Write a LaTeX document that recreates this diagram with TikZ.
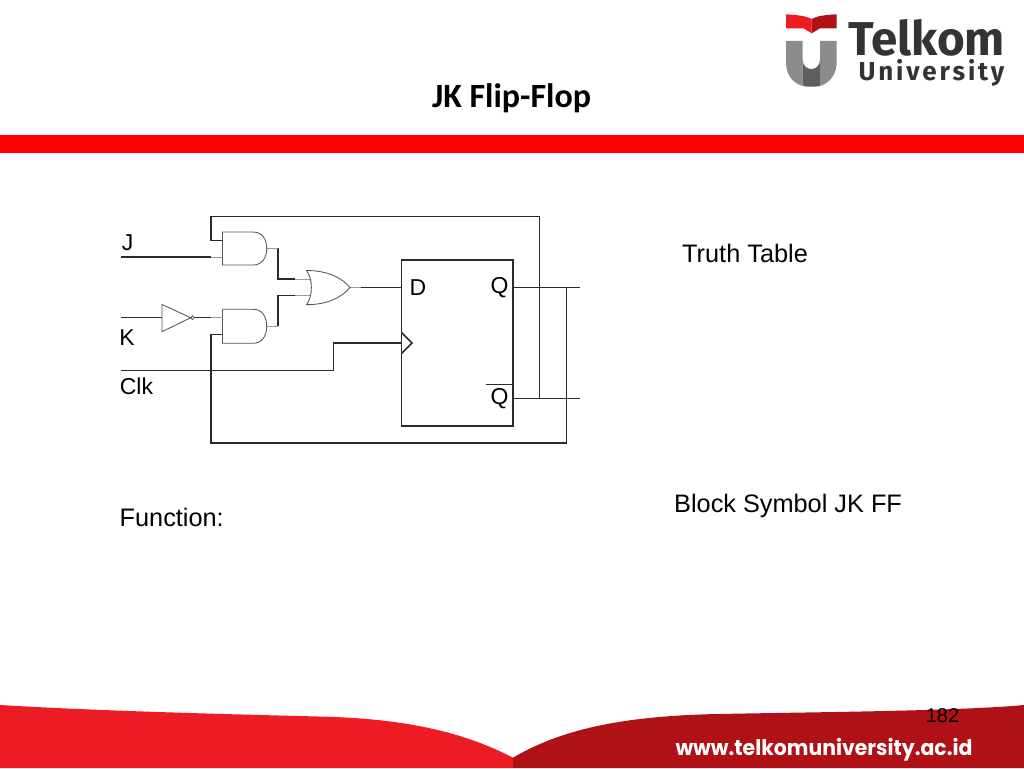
\documentclass[tikz,border=0pt]{standalone}
\usepackage{fontspec}
\setmainfont{Liberation Sans}
\newfontfamily\titlefont{Carlito}
\newfontfamily\webfont{Poppins}
\newfontfamily\logofont{Fira Sans}
\newfontfamily\logospaced[LetterSpace=11]{Fira Sans}
\definecolor{wirecol}{HTML}{2A2A2A}
\definecolor{gatecol}{HTML}{555555}
\definecolor{pincol}{HTML}{999999}
\definecolor{footL}{HTML}{ED1C24}
\definecolor{footR}{HTML}{B01116}
\definecolor{logotxt}{HTML}{333333}
\definecolor{logolight}{HTML}{8C8C8C}
\definecolor{logodark}{HTML}{5F5F5F}
\tikzset{
  wire/.style={draw=wirecol,line width=1.5pt,line join=miter},
  pin/.style={draw=pincol,line width=1pt},
  gate/.style={draw=gatecol,line width=0.85pt,fill=white},
  label/.style={inner sep=0pt,font=\fontsize{25.3}{27}\selectfont,text=black},
  pinlabel/.style={inner sep=0pt,font=\fontsize{23}{25}\selectfont,text=black},
  ffbox/.style={draw=wirecol,line width=1.5pt,fill=white,inner sep=0pt,minimum width=111.5pt,minimum height=166pt},
}
\begin{document}
\begin{tikzpicture}[x=1pt,y=-1pt]
\useasboundingbox (0,0) rectangle (1024,768);
\fill[white] (0,0) rectangle (1024,768);
% red bar
\fill[red] (0,134.5) rectangle (1024,153.3);
% footer
\fill[footL] (0,705) .. controls (100,711) and (220,714) .. (326,716.7) .. controls (400,719) and (460,730) .. (513,757.7) -- (513,768) -- (0,768) -- cycle;
\fill[footR] (1024,705) .. controls (960,711) and (820,712) .. (718,714) .. controls (620,716) and (560,730) .. (513,757.7) -- (513,768) -- (1024,768) -- cycle;
\node[inner sep=0pt,text=black,font=\fontsize{20}{22}\selectfont] (pageno) at (942.5,715.5) {182};
\node[inner sep=0pt,text=white,xscale=0.95,font=\webfont\bfseries\fontsize{21.5}{24}\selectfont] (web) at (824,749.5) {www.telkomuniversity.ac.id};
% logo
\fill[footL] (786,14.3) .. controls (798,15) and (806,16) .. (811.7,19) -- (811.7,33.3) -- (803.3,28.3) -- (786,28.3) -- cycle;
\fill[footR] (836.7,14.3) .. controls (824,15) and (817,16) .. (811.7,19) -- (811.7,33.3) -- (820,28.3) -- (836.7,28.3) -- cycle;
\fill[logolight] (786,41) -- (802.7,41) -- (802.7,86) .. controls (792,83) and (786,74) .. (786,62) -- cycle;
\fill[logodark] (802.7,60) .. controls (803,72) and (819.7,72) .. (820,60) -- (820,86) .. controls (815,87) and (808,87) .. (802.7,86) -- cycle;
\fill[logolight] (820,41) -- (836.7,41) -- (836.7,62) .. controls (836.7,74) and (830,83) .. (820,86) -- cycle;
\node[inner sep=0pt,anchor=base,text=logotxt,font=\logofont\bfseries\fontsize{47.5}{50}\selectfont] (telkom) at (926.5,56) {Telkom};
\node[inner sep=0pt,anchor=base,text=logotxt,font=\logospaced\bfseries\fontsize{26}{28}\selectfont] (univ) at (931.5,80.5) {University};
% title
\node[inner sep=0pt,font=\titlefont\bfseries\fontsize{34}{36}\selectfont] (title) at (511.5,98) {JK Flip-Flop};
% flip-flop
\node[ffbox] (ff) at (457.25,343) {};
\coordinate (ffD) at (401.5,287.5);
\coordinate (ffClk) at (401.5,343);
\coordinate (ffQ) at (513,287.5);
\coordinate (ffNQ) at (513,398.5);
\coordinate (outQ) at (580,287.5);
\coordinate (outNQ) at (580,398.5);
\draw[wire] (401.5,332.5) -- (412,343) -- (401.5,353.5);
\node[pinlabel] (lD) at (418,287.5) {D};
\node[pinlabel] (lQ) at (499.5,287.5) {Q};
\node[pinlabel] (lNQ) at (499.5,398.5) {Q};
\draw[wire] (486,384.7) -- (513,384.7);
% gate pin coordinates
\coordinate (a1a) at (222.5,240.5);
\coordinate (a1b) at (222.5,257);
\coordinate (a1o) at (266.7,248);
\coordinate (a2a) at (222.5,317.7);
\coordinate (a2b) at (222.5,334.7);
\coordinate (a2o) at (266.7,326);
\coordinate (o1a) at (311.5,279);
\coordinate (o1b) at (310,295.7);
\coordinate (o1o) at (350,287.5);
% feedback and wires
\coordinate (inJ) at (120.5,257);
\coordinate (inK) at (120.5,317.7);
\coordinate (inClk) at (120.5,370.7);
\coordinate (jmid) at (211,257);
\coordinate (kmid) at (211,317.7);
\draw[wire] (ffNQ) -- (outNQ);
\draw[wire] (ffQ) -- (outQ);
\draw[wire] (539.7,398.5) -- (539.7,216.5) -- (211,216.5) -- (211,240.5) -- (a1a);
\draw[wire] (566.3,287.5) -- (566.3,443) -- (211,443) -- (211,334.7) -- (a2b);
\draw[wire] (inJ) -- (jmid);
\draw[pin] (jmid) -- (a1b);
\draw[wire] (inClk) -- (333.7,370.7) -- (333.7,343) -- (ffClk);
\draw[wire] (295,279) -- (278,279) -- (278,248);
\draw[pin] (a1o) -- (278,248);
\draw[wire] (295,295.7) -- (278,295.7) -- (278,326);
\draw[pin] (a2o) -- (278,326);
\draw[pin] (295,279) -- (o1a);
\draw[pin] (295,295.7) -- (o1b);
\draw[pin] (o1o) -- (361,287.5);
\draw[wire] (361,287.5) -- (ffD);
% AND gates
\draw[gate] (222.5,232) -- (253,232) .. controls (262,232) and (266.7,239) .. (266.7,248.5) .. controls (266.7,258) and (262,265) .. (253,265) -- (222.5,265) -- cycle;
\draw[gate] (222.5,309.3) -- (253,309.3) .. controls (262,309.3) and (266.7,316.5) .. (266.7,326.3) .. controls (266.7,336) and (262,343.3) .. (253,343.3) -- (222.5,343.3) -- cycle;
% OR gate
\draw[gate] (306.5,270.5) .. controls (328,270.5) and (342,278) .. (350,287.5) .. controls (342,297) and (328,304.7) .. (306.5,304.7) .. controls (313,296) and (313,279) .. (306.5,270.5) -- cycle;
% inverter
\draw[wire] (inK) -- (162,317.7);
\draw[wire] (194.5,317.7) -- (kmid);
\draw[pin] (kmid) -- (a2a);
\draw[gate] (162,304.5) -- (190.7,317.7) -- (162,331.7) -- cycle;
\draw[gate] (192.6,317.7) circle[radius=1.8];
% labels
\node[pinlabel] (lJ) at (127.5,243) {J};
\node[pinlabel] (lK) at (127,338) {K};
\node[pinlabel] (lClk) at (136.5,386) {Clk};
\node[label,anchor=west] (tt) at (682,253.5) {Truth Table};
\node[label,anchor=west] (fn) at (119.5,517) {Function:};
\node[label,anchor=west] (bs) at (674,506) {Block Symbol JK FF};
\end{tikzpicture}
\end{document}
